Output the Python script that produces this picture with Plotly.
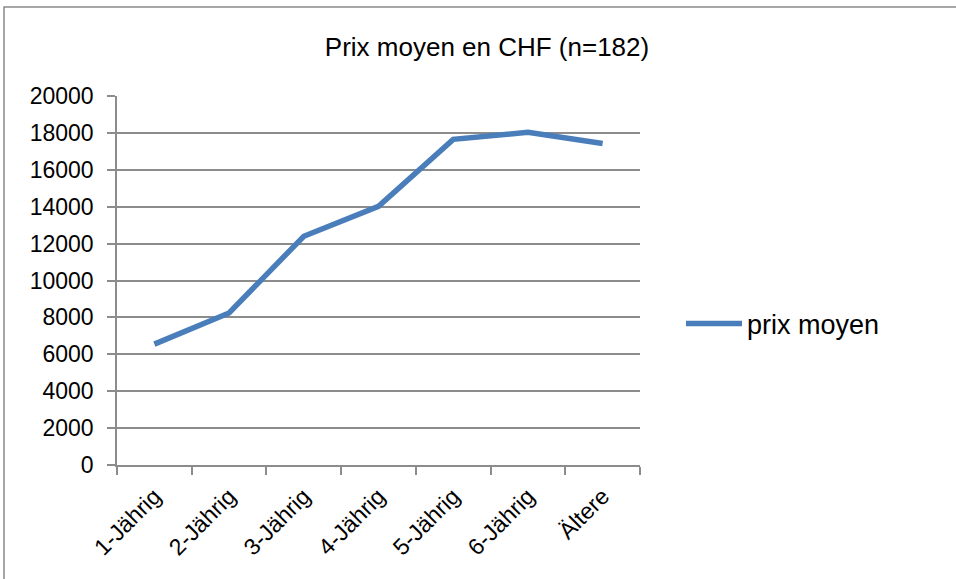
import plotly.graph_objects as go

categories = ["1-Jährig", "2-Jährig", "3-Jährig", "4-Jährig", "5-Jährig", "6-Jährig", "Ältere"]
prix_moyen = [6550, 8240, 12400, 14020, 17650, 18030, 17430]
y_ticks = [0, 2000, 4000, 6000, 8000, 10000, 12000, 14000, 16000, 18000, 20000]
series_name = "prix moyen"
title_text = "Prix moyen en CHF (n=182)"

W, H = 956, 579
L, R, T, B = 117, 640, 96, 465

def px(x):
    return (x - L) / (R - L)

def py(y):
    return (B - y) / (B - T)

fig = go.Figure()
fig.add_trace(go.Scatter(
    x=categories, y=prix_moyen, mode="lines", name=series_name,
    line=dict(color="#4a7ebb", width=5.5),
))

grid = "#8c8c8c"
fig.update_layout(
    width=W, height=H,
    margin=dict(l=L, r=W - R, t=T, b=H - B, pad=0),
    paper_bgcolor="white", plot_bgcolor="white",
    font=dict(family="Liberation Sans, Arial, sans-serif", color="black"),
    title=dict(text=title_text, x=(487) / W, xanchor="center", y=1 - 47 / H, yanchor="middle",
               font=dict(size=26, color="black")),
    showlegend=True,
    legend=dict(x=px(681), xanchor="left", y=py(324), yanchor="middle",
                font=dict(size=27, color="black"), itemwidth=56,
                bgcolor="rgba(0,0,0,0)"),
    xaxis=dict(
        type="category", range=[-0.5, 6.5], tickson="boundaries",
        ticks="outside", ticklen=8, tickcolor=grid, tickwidth=1.5,
        showline=True, linecolor=grid, linewidth=1.5,
        showgrid=False, tickangle=-45, tickfont=dict(size=23, color="black"),
        ticklabelstandoff=7, fixedrange=True,
    ),
    yaxis=dict(
        range=[0, 20000], tickvals=y_ticks, ticktext=[str(v) for v in y_ticks],
        ticks="outside", ticklen=8, tickcolor=grid, tickwidth=1.5,
        showline=True, linecolor=grid, linewidth=1.5,
        showgrid=True, gridcolor=grid, gridwidth=1.5, zeroline=False,
        tickfont=dict(size=23, color="black"), ticklabelstandoff=9,
    ),
    shapes=[dict(type="rect", xref="paper", yref="paper",
                 x0=px(4), x1=px(W + 20), y0=py(H + 20), y1=py(7),
                 line=dict(color="#8a8a8a", width=1.5), fillcolor="rgba(0,0,0,0)", layer="below")],
)

fig.write_html("out.html", config={"displayModeBar": False},
               post_script="document.body.style.margin='0';document.body.style.overflow='hidden';")
